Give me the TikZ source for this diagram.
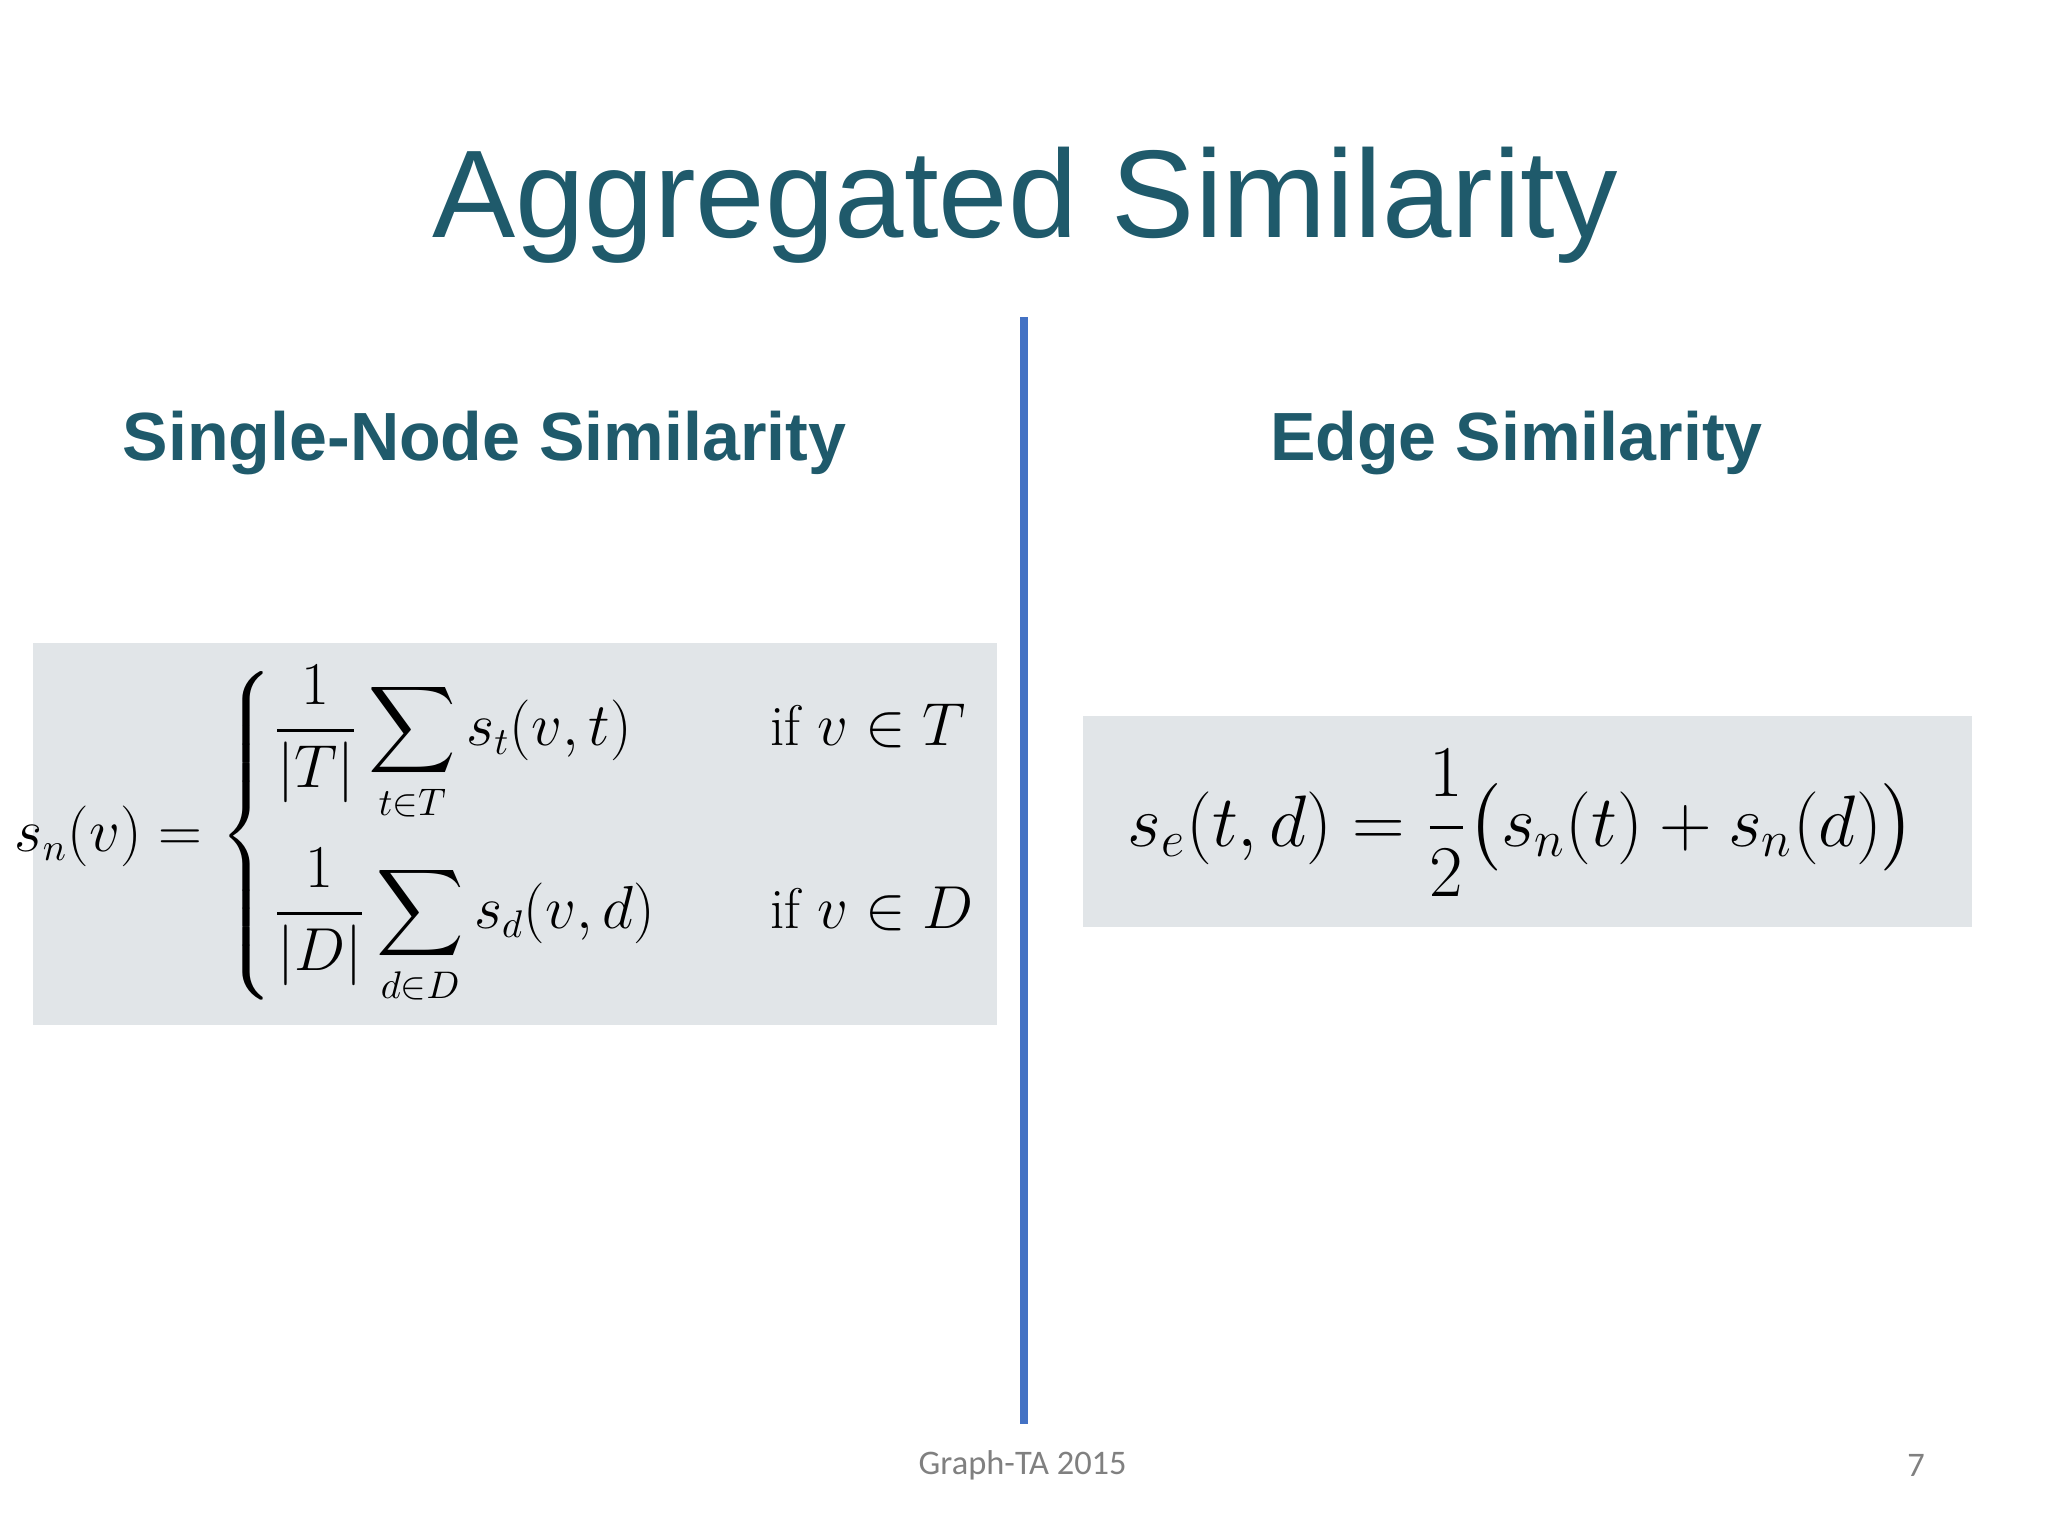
\documentclass[tikz,border=0pt]{standalone}
\usepackage{amsmath}
\usepackage{fontspec}
\setsansfont{Liberation Sans}
\newfontfamily\footfont{Carlito}
\definecolor{teal1}{HTML}{1F5A6B}
\definecolor{boxg}{HTML}{E1E5E8}
\definecolor{lineb}{HTML}{4472C4}
\begin{document}
\begin{tikzpicture}[x=0.013061cm,y=-0.013061cm,
  eqbox/.style={fill=boxg,draw=none},
  head/.style={font=\sffamily\bfseries\fontsize{19.4}{23}\selectfont,text=teal1}]
\useasboundingbox[fill=white] (0,0) rectangle (1568,1176);
\node[font=\sffamily\fontsize{35.5}{42}\selectfont,text=teal1] (title) at (785,157) {Aggregated Similarity};
\coordinate (ltop) at (784,243);
\coordinate (lbot) at (784,1090);
\draw[lineb,line width=2.2pt] (ltop) -- (lbot);
\node[head] (h1) at (371,339) {Single-Node Similarity};
\node[head] (h2) at (1161,339) {Edge Similarity};
\fill[boxg] (25,492) rectangle (763,785);
\fill[boxg] (829,548) rectangle (1510,710);
\node[font=\fontsize{16.3}{20}\selectfont] (f1) at (380,640) {$\displaystyle s_n(v)=\begin{cases}\dfrac{1}{|T|}\displaystyle\sum_{t\in T}s_t(v,t) & \quad\text{if } v\in T\\[22pt] \dfrac{1}{|D|}\displaystyle\sum_{d\in D}s_d(v,d) & \quad\text{if } v\in D\end{cases}$};
\node[font=\fontsize{21.3}{26}\selectfont] (f2) at (1165,630) {$\displaystyle s_e(t,d)=\frac{1}{2}\bigl(s_n(t)+s_n(d)\bigr)$};
\node[font=\footfont\fontsize{9.8}{12}\selectfont,text=gray] (foot) at (783,1122) {Graph-TA 2015};
\node[font=\footfont\fontsize{9.8}{12}\selectfont,text=gray] (pg) at (1467,1122) {7};
\end{tikzpicture}
\end{document}
